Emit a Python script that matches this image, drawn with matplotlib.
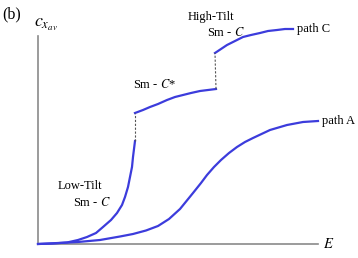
import matplotlib
matplotlib.use("Agg")
import matplotlib.pyplot as plt

plt.rcParams['font.family'] = ['Liberation Serif', 'DejaVu Serif']
plt.rcParams['mathtext.fontset'] = 'stix'

# path C, three branches (Low-Tilt Sm-C, Sm-C*, High-Tilt Sm-C)
c_low_E = [0, 15, 29, 40, 49, 58, 65, 73, 79, 84, 87, 90, 92, 94, 95, 96, 97]
c_low_v = [0, 0.5, 1.5, 4, 7, 11, 17, 24, 31, 39, 47, 57, 67, 77, 87, 95, 103]
c_star_E = [97, 105, 112, 120, 129, 137, 145, 153, 162, 170, 178]
c_star_v = [131, 134, 137, 140, 144, 147, 149, 151, 153, 154, 155]
c_high_E = [177, 183, 189, 197, 205, 213, 222, 230, 239, 247, 255]
c_high_v = [191, 195, 199, 203, 207, 209, 211, 213, 214, 215, 215]

# path A
a_E = [0, 20, 40, 62, 82, 95, 108, 120, 131, 142, 155, 163, 169, 176, 183, 191, 199, 207, 215, 232, 249, 265, 280]
a_v = [0, 1, 2, 4, 7.5, 10, 13.5, 18, 25, 35, 51, 61, 69, 77, 84, 91, 97, 102, 106, 114, 119, 122, 123]

blue = '#3c3cdc'
grey = '#8a8a8a'

fig = plt.figure(figsize=(3.58, 2.58), dpi=100)
ax = fig.add_axes([0, 0, 1, 1])
ax.set_xlim(-38, 320)
ax.set_ylim(-14, 244)
ax.axis('off')

# axes
ax.plot([0, 0], [0, 208], color=grey, lw=1.2)
ax.plot([0, 280], [0, 0], color=grey, lw=1.2)

ax.plot(c_low_E, c_low_v, color=blue, lw=1.6)
ax.plot(c_star_E, c_star_v, color=blue, lw=1.6)
ax.plot(c_high_E, c_high_v, color=blue, lw=1.6)
ax.plot(a_E, a_v, color=blue, lw=1.6)

# jumps
ax.plot([c_low_E[-1], c_star_E[0]], [c_low_v[-1], c_star_v[0]], color='#555555', lw=0.8, ls=(0, (2, 1.5)))
ax.plot([c_star_E[-1], c_high_E[0]], [c_star_v[-1], c_high_v[0]], color='#555555', lw=0.8, ls=(0, (2, 1.5)))

fs = 9
ax.text(-36, 230, '(b)', fontsize=11.5, va='center', ha='left')
ax.text(-4, 219, r'$c_{x_{av}}$', fontsize=13, va='center', ha='left')
ax.text(285, 0, r'$E$', fontsize=10.5, va='center', ha='left')
ax.text(259, 215, 'path C', fontsize=fs, va='center', ha='left')
ax.text(284, 123, 'path A', fontsize=fs, va='center', ha='left')
ax.text(95, 159, 'Sm - $C$*', fontsize=fs, va='center', ha='left')
ax.text(150, 227, 'High-Tilt', fontsize=fs, va='center', ha='left')
ax.text(169, 211, 'Sm - $C$', fontsize=fs, va='center', ha='left')
ax.text(20, 58, 'Low-Tilt', fontsize=fs, va='center', ha='left')
ax.text(35, 42, 'Sm - $C$', fontsize=fs, va='center', ha='left')

fig.savefig('out.png', dpi=100)
